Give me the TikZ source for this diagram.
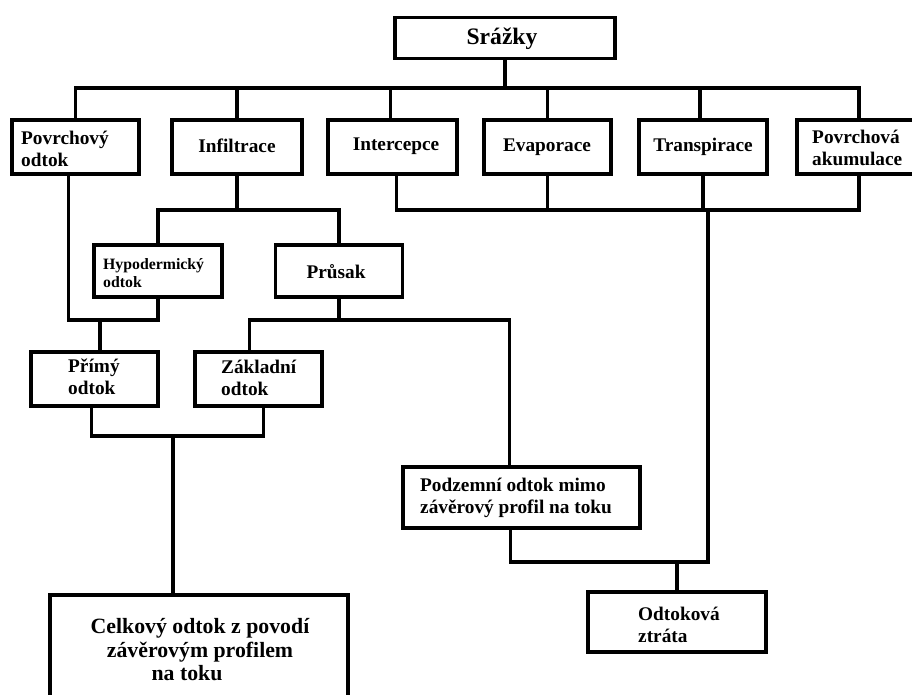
\documentclass[tikz,border=0pt]{standalone}
\usepackage{fontspec}
\setmainfont{Liberation Serif}
\begin{document}
\begin{tikzpicture}[x=1pt,y=-1pt,
  bx/.style={draw, line width=3.5pt, inner sep=0pt, fill=white},
  ln/.style={line width=3.5pt, line cap=rect, line join=miter},
  tx/.style={font=\fontsize{19.3}{22.5}\selectfont\bfseries, inner sep=0pt, align=left},
  txs/.style={font=\fontsize{15.8}{18}\selectfont\bfseries, inner sep=0pt, align=left}]
\useasboundingbox (0,0) rectangle (912,695);
\clip (0,0) rectangle (912,695);
\fill[white] (0,0) rectangle (912,695);
% boxes
\node[bx, minimum width=220pt, minimum height=41pt] (sr) at (505,38) {};
\node[bx, minimum width=127pt, minimum height=54pt] (pov) at (75.5,147) {};
\node[bx, minimum width=130pt, minimum height=54pt] (inf) at (237,147) {};
\node[bx, minimum width=129pt, minimum height=54pt] (int) at (392.5,147) {};
\node[bx, minimum width=127pt, minimum height=54pt] (eva) at (547.5,147) {};
\node[bx, minimum width=128pt, minimum height=54pt] (tra) at (703,147) {};
\node[bx, minimum width=124pt, minimum height=54pt] (aku) at (859,147) {};
\node[bx, minimum width=128pt, minimum height=52pt] (hyp) at (158,271) {};
\node[bx, minimum width=127pt, minimum height=52pt] (prs) at (339,271) {};
\node[bx, minimum width=127pt, minimum height=54pt] (pri) at (94.5,379) {};
\node[bx, minimum width=127pt, minimum height=54pt] (zak) at (258.5,379) {};
\node[bx, minimum width=237pt, minimum height=61pt] (pod) at (521.5,497.5) {};
\node[bx, minimum width=178pt, minimum height=60pt] (odt) at (677,622) {};
\node[bx, minimum width=298pt, minimum height=110pt] (cel) at (199,650) {};
% junction coordinates
\coordinate (b1) at (505,88);
\coordinate (rb) at (708,210);
\coordinate (lb) at (708,562);
\coordinate (j1) at (100,320);
\coordinate (j2) at (237,210);
\coordinate (j3) at (339,320);
\coordinate (j4) at (173,436);
% connectors
\draw[ln] (sr.south) -- (b1);
\draw[ln] (pov.north) |- (aku.north |- b1) -- (aku.north);
\draw[ln] (inf.north) -- (inf.north |- b1);
\draw[ln] ([xshift=-2pt]int.north) -- ([xshift=-2pt]int.north |- b1);
\draw[ln] (eva.north) -- (eva.north |- b1);
\draw[ln] ([xshift=-3pt]tra.north) -- ([xshift=-3pt]tra.north |- b1);
\draw[ln] ([xshift=4pt]int.south) |- (aku.south |- rb) -- (aku.south);
\draw[ln] (eva.south) -- (eva.south |- rb);
\draw[ln] (tra.south) -- (tra.south |- rb);
\draw[ln] (rb) -- (lb);
\draw[ln] ([xshift=-11pt]pod.south) |- (lb);
\draw[ln] (odt.north) -- (odt.north |- lb);
\draw[ln] (inf.south) -- (j2);
\draw[ln] (hyp.north) |- (prs.north |- j2) -- (prs.north);
\draw[ln] ([xshift=-7pt]pov.south) |- (hyp.south |- j1) -- (hyp.south);
\draw[ln] (j1) -- (j1 |- pri.north);
\draw[ln] (prs.south) -- (j3);
\draw[ln] ([xshift=-9pt]zak.north) |- ([xshift=-12pt]pod.north |- j3) -- ([xshift=-12pt]pod.north);
\draw[ln] ([xshift=-3pt]pri.south) |- ([xshift=5pt]zak.south |- j4) -- ([xshift=5pt]zak.south);
\draw[ln] (j4) -- (j4 |- cel.north);
% texts
\node[font=\fontsize{23.6}{26}\selectfont\bfseries, inner sep=0pt] (tsr) at (502,39) {Srážky};
\node[tx, anchor=west] (tpov) at (21,149) {Povrchový\\odtok};
\node[tx] (tinf) at (237,146) {Infiltrace};
\node[tx] (tint) at (396,146) {Intercepce};
\node[tx] (teva) at (547,147) {Evaporace};
\node[tx] (ttra) at (703,147) {Transpirace};
\node[tx, anchor=west] (taku) at (812,148) {Povrchová\\akumulace};
\node[txs, anchor=west] (thyp) at (103,273) {Hypodermický\\odtok};
\node[tx] (tprs) at (336,272) {Průsak};
\node[tx, anchor=west] (tpri) at (68,377) {Přímý\\odtok};
\node[tx, anchor=west] (tzak) at (221,378) {Základní\\odtok};
\node[tx, anchor=west] (tpod) at (420,498) {Podzemní odtok mimo\\závěrový profil na toku};
\node[tx, anchor=west] (todt) at (638,625) {Odtoková\\ztráta};
\node[font=\fontsize{21.8}{23.5}\selectfont\bfseries, inner sep=0pt, align=center] (tcel) at (200,650) {Celkový odtok z povodí\\závěrovým profilem\\na toku\hspace*{26pt}};
\end{tikzpicture}
\end{document}
